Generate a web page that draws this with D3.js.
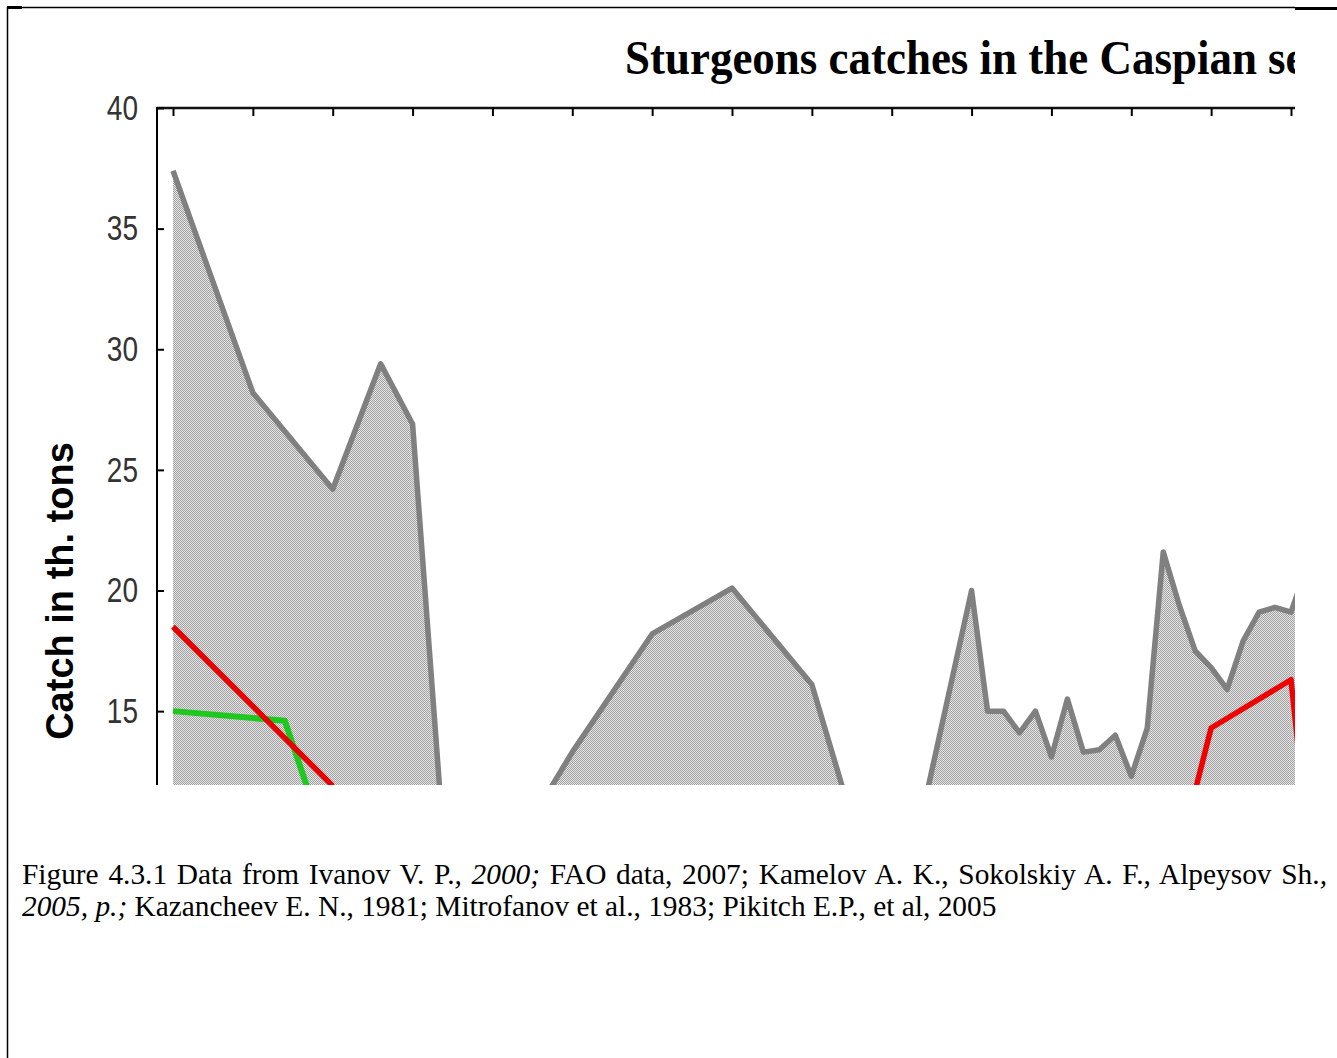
<!DOCTYPE html>
<html>
<head>
<meta charset="utf-8">
<script src="https://cdn.jsdelivr.net/npm/d3@7"></script>
<style>
  html, body { margin: 0; padding: 0; background: #fff; }
  svg { display: block; }
</style>
</head>
<body>
<svg id="page" width="1337" height="1058"></svg>
<script>
// catches, thousand tons
var grayYears  = [1900, 1905, 1910, 1913, 1915, 1917, 1920, 1925, 1930, 1935, 1940, 1945,
                  1950, 1951, 1952, 1953, 1954, 1955, 1956, 1957, 1958, 1959, 1960, 1961,
                  1962, 1963, 1964, 1965, 1966, 1967, 1968, 1969, 1970, 1971];
var grayValues = [37.4, 28.2, 24.2, 29.4, 26.9, 9.1, 7.8, 13.3, 18.2, 20.1, 16.1, 5.0,
                  20.0, 15.0, 15.0, 14.1, 15.0, 13.1, 15.5, 13.3, 13.4, 14.0, 12.3, 14.3,
                  21.6, 19.4, 17.5, 16.8, 15.9, 17.9, 19.1, 19.3, 19.1, 21.0];

var redYears   = [1900, 1905, 1910];
var redValues  = [18.5, 15.2, 11.9];
var red2Years  = [1964, 1965, 1970, 1971];
var red2Values = [11.7, 14.3, 16.3, 10.0];

var greenYears  = [1900, 1907, 1910];
var greenValues = [15.0, 14.6, 8.7];

var yTicks = [15, 20, 25, 30, 35, 40];
var xTicks = d3.range(1900, 1971, 5);

var titleText = "Sturgeons catches in the Caspian sea";
var yLabel = "Catch in th. tons";

var svg = d3.select('#page');

//page borders (document table lines)
svg.append('line').attr('x1', 7).attr('y1', 7.5).attr('x2', 1295).attr('y2', 7.5)
   .style('stroke', '#000').style('stroke-width', 1.5);
svg.append('line').attr('x1', 7).attr('y1', 7.5).attr('x2', 22).attr('y2', 7.5)
   .style('stroke', '#000').style('stroke-width', 3);
svg.append('line').attr('x1', 1295).attr('y1', 8.5).attr('x2', 1337).attr('y2', 8.5)
   .style('stroke', '#000').style('stroke-width', 3);
svg.append('line').attr('x1', 7.5).attr('y1', 7).attr('x2', 7.5).attr('y2', 1058)
   .style('stroke', '#000').style('stroke-width', 1.5);

var defs = svg.append('defs');
defs.append('clipPath').attr('id', 'pic').append('rect')
    .attr('x', 0).attr('y', 0).attr('width', 1295).attr('height', 785);
defs.append('clipPath').attr('id', 'plot').append('rect')
    .attr('x', 157).attr('y', 108).attr('width', 1295 - 157).attr('height', 785 - 108);

//dithered grey fill
var pat = defs.append('pattern').attr('id', 'dots')
    .attr('patternUnits', 'userSpaceOnUse').attr('width', 2).attr('height', 2);
pat.append('rect').attr('width', 2).attr('height', 2).style('fill', '#e6e6e6');
pat.append('rect').attr('x', 0).attr('y', 0).attr('width', 1).attr('height', 1).style('fill', '#a0a0a0');
pat.append('rect').attr('x', 1).attr('y', 1).attr('width', 1).attr('height', 1).style('fill', '#a0a0a0');

var chart = svg.append('g').attr('clip-path', 'url(#pic)');

var x = d3.scaleLinear().domain([1900, 1970]).range([173, 1291]);
var y = d3.scaleLinear().domain([0, 40]).range([1073, 108]);

//title
var title = chart.append('text')
    .attr('font-family', '"Liberation Serif", "Times New Roman", serif')
    .attr('font-weight', 'bold')
    .attr('font-size', 49)
    .style('fill', '#000')
    .text("Sturgeons catches in the Caspian");
var tw = title.node().getComputedTextLength();
var sx = 632 / tw;
title.text(titleText).attr('transform', 'translate(625,74) scale(' + sx + ',1)');

//plot
var plot = chart.append('g').attr('clip-path', 'url(#plot)');

var grayData = grayYears.map(function(d, i) { return {year: d, value: grayValues[i]}; });

plot.append('path').datum(grayData)
    .attr('d', d3.area()
        .x(function(d) { return x(d.year); })
        .y0(y(0))
        .y1(function(d) { return y(d.value); }))
    .style('fill', 'url(#dots)');

var line = d3.line()
    .x(function(d) { return x(d.year); })
    .y(function(d) { return y(d.value); });

plot.append('path').datum(grayData).attr('d', line)
    .style('fill', 'none').style('stroke', '#808080').style('stroke-width', 5.5)
    .style('stroke-linejoin', 'round');

var series = [
  {years: greenYears, values: greenValues, color: '#1ec81e', w: 6},
  {years: redYears, values: redValues, color: '#e60000', w: 5.5},
  {years: red2Years, values: red2Values, color: '#f00000', w: 5.5}
];
series.forEach(function(s) {
    var pts = s.years.map(function(d, i) { return {year: d, value: s.values[i]}; });
    plot.append('path').datum(pts).attr('d', line)
        .style('fill', 'none').style('stroke', s.color).style('stroke-width', s.w)
        .style('stroke-linejoin', 'round');
});

//axes
var xAxis = chart.append('g')
    .attr('class', 'axis axis--x')
    .attr('transform', 'translate(0,' + y(40) + ')')
    .call(d3.axisTop(x).tickValues(xTicks).tickSizeInner(-8).tickSizeOuter(0).tickFormat(''));
xAxis.select('.domain').attr('d', 'M157,0H1300');
xAxis.selectAll('line').style('stroke', '#000').style('stroke-width', 2);
xAxis.select('.domain').style('stroke', '#111').style('stroke-width', 2.5);

var labelScale = 0.8;
var yAxis = chart.append('g')
    .attr('class', 'axis axis--y')
    .attr('transform', 'translate(157,0)')
    .call(d3.axisLeft(y).tickValues(yTicks).tickSizeInner(-7).tickSizeOuter(0).tickPadding(19));
yAxis.select('.domain').attr('d', 'M0,' + (y(40) - 1) + 'V' + y(0))
    .style('stroke', '#000').style('stroke-width', 2);
yAxis.selectAll('line').style('stroke', '#000').style('stroke-width', 2);
//narrow, thin digits like the original bitmap font
yAxis.selectAll('text')
    .attr('x', -19 / labelScale)
    .attr('transform', 'scale(' + labelScale + ',1)')
    .attr('font-family', '"Liberation Sans", Arial, sans-serif')
    .attr('font-weight', 300)
    .attr('font-size', 35)
    .style('fill', '#333');

chart.append('text')
    .attr('transform', 'translate(73,591) rotate(-90)')
    .attr('text-anchor', 'middle')
    .attr('font-family', '"Liberation Sans", Arial, sans-serif')
    .attr('font-weight', 'bold')
    .attr('font-size', 38)
    .style('fill', '#000')
    .text(yLabel);

//caption
var cap = svg.append('g')
    .attr('font-family', '"Liberation Serif", "Times New Roman", serif')
    .style('fill', '#000');

var line2 = cap.append('text').attr('x', 22).attr('y', 916).attr('font-size', 26);
line2.append('tspan').attr('font-style', 'italic').text('2005, p.;');
line2.append('tspan').text(' Kazancheev E. N., 1981; Mitrofanov et al., 1983; Pikitch E.P., et al, 2005');
var fs = 26 * 975 / line2.node().getComputedTextLength();
line2.attr('font-size', fs);

var line1 = cap.append('text').attr('x', 22).attr('y', 884).attr('font-size', fs);
line1.append('tspan').text('Figure 4.3.1 Data from Ivanov V. P.');
line1.append('tspan').attr('font-style', 'italic').text(', 2000;');
line1.append('tspan').text(' FAO data, 2007; Kamelov A. K., Sokolskiy A. F., Alpeysov Sh.');
line1.append('tspan').attr('font-style', 'italic').text(',');
var w1 = line1.node().getComputedTextLength();
var nSpaces = line1.text().split(' ').length - 1;
line1.style('word-spacing', ((1327 - 22 - w1) / nSpaces) + 'px');
</script>
</body>
</html>
